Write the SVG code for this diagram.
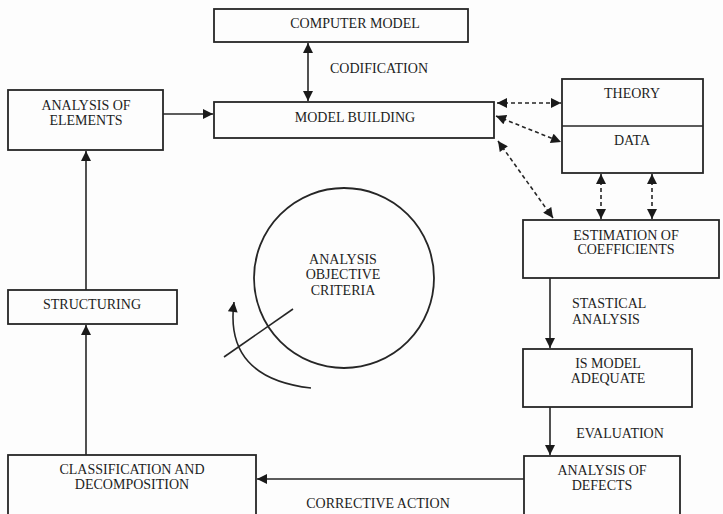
<svg xmlns="http://www.w3.org/2000/svg" width="723" height="514" viewBox="0 0 723 514">
  <style>
    .box { fill: none; stroke: #262626; stroke-width: 1.8; }
    .t { font-family: "Liberation Serif", "Times New Roman", serif; font-size: 14px; fill: #1e1e1e; text-anchor: middle; }
    .tl { font-family: "Liberation Serif", "Times New Roman", serif; font-size: 14px; fill: #1e1e1e; text-anchor: start; }
    .ln { fill: none; stroke: #262626; stroke-width: 1.6; }
    .dash { fill: none; stroke: #262626; stroke-width: 1.6; stroke-dasharray: 4 3; }
  </style>
  <defs>
    <marker id="ah" viewBox="0 0 10 10" refX="10" refY="5" markerWidth="11" markerHeight="10" markerUnits="userSpaceOnUse" orient="auto-start-reverse">
      <path d="M0,0 L10,5 L0,10 z" fill="#1a1a1a"/>
    </marker>
  </defs>
  <rect width="723" height="514" fill="#fdfdfd"/>

  <g id="computer-model">
    <rect class="box" x="214" y="9" width="254" height="33"/>
    <text class="t" x="355" y="28">COMPUTER MODEL</text>
  </g>
  <g id="model-building">
    <rect class="box" x="214" y="102" width="280" height="36"/>
    <text class="t" x="355" y="122">MODEL BUILDING</text>
  </g>
  <g id="analysis-of-elements">
    <rect class="box" x="8" y="90" width="155" height="60"/>
    <text class="t" x="86" y="110">ANALYSIS OF</text>
    <text class="t" x="86" y="125">ELEMENTS</text>
  </g>
  <g id="theory-data">
    <rect class="box" x="562" y="79" width="141" height="94"/>
    <line class="ln" x1="562" y1="126" x2="703" y2="126"/>
    <text class="t" x="632" y="98">THEORY</text>
    <text class="t" x="632" y="145">DATA</text>
  </g>
  <g id="estimation-of-coefficients">
    <rect class="box" x="523" y="220" width="196" height="58"/>
    <text class="t" x="626" y="240">ESTIMATION OF</text>
    <text class="t" x="626" y="254">COEFFICIENTS</text>
  </g>
  <g id="is-model-adequate">
    <rect class="box" x="523" y="349" width="169" height="58"/>
    <text class="t" x="608" y="368">IS MODEL</text>
    <text class="t" x="608" y="383">ADEQUATE</text>
  </g>
  <g id="analysis-of-defects">
    <rect class="box" x="524" y="456" width="156" height="70"/>
    <text class="t" x="602" y="475">ANALYSIS OF</text>
    <text class="t" x="602" y="490">DEFECTS</text>
  </g>
  <g id="classification-and-decomposition">
    <rect class="box" x="8" y="455" width="248" height="70"/>
    <text class="t" x="132" y="474">CLASSIFICATION AND</text>
    <text class="t" x="132" y="489">DECOMPOSITION</text>
  </g>
  <g id="structuring">
    <rect class="box" x="8" y="290" width="169" height="34"/>
    <text class="t" x="92" y="309">STRUCTURING</text>
  </g>
  <g id="analysis-objective-criteria">
    <circle class="box" cx="344" cy="278" r="90"/>
    <text class="t" x="343" y="264">ANALYSIS</text>
    <text class="t" x="343" y="279">OBJECTIVE</text>
    <text class="t" x="343" y="295">CRITERIA</text>
  </g>

  <g id="connectors">
    <line class="ln" x1="308" y1="43" x2="308" y2="101" marker-start="url(#ah)" marker-end="url(#ah)"/>
    <line class="ln" x1="163" y1="114" x2="213" y2="114" marker-end="url(#ah)"/>
    <line class="ln" x1="86" y1="290" x2="86" y2="151" marker-end="url(#ah)"/>
    <line class="ln" x1="86" y1="455" x2="86" y2="325" marker-end="url(#ah)"/>
    <line class="ln" x1="524" y1="479" x2="257" y2="479" marker-end="url(#ah)"/>
    <line class="ln" x1="550" y1="278" x2="550" y2="348" marker-end="url(#ah)"/>
    <line class="ln" x1="550" y1="407" x2="550" y2="455" marker-end="url(#ah)"/>
    <line class="dash" x1="497" y1="103" x2="561" y2="103" marker-start="url(#ah)" marker-end="url(#ah)"/>
    <line class="dash" x1="496" y1="116" x2="561" y2="142" marker-start="url(#ah)" marker-end="url(#ah)"/>
    <line class="dash" x1="498" y1="141" x2="553" y2="218" marker-start="url(#ah)" marker-end="url(#ah)"/>
    <line class="dash" x1="601" y1="174" x2="601" y2="219" marker-start="url(#ah)" marker-end="url(#ah)"/>
    <line class="dash" x1="652" y1="174" x2="652" y2="219" marker-start="url(#ah)" marker-end="url(#ah)"/>
    <path class="ln" d="M311,388 Q224,378 234,302" marker-end="url(#ah)"/>
    <line class="ln" x1="293" y1="309" x2="224" y2="357"/>
    <text class="t" x="379" y="73">CODIFICATION</text>
    <text class="tl" x="572" y="308">STASTICAL</text>
    <text class="tl" x="572" y="324">ANALYSIS</text>
    <text class="t" x="620" y="438">EVALUATION</text>
    <text class="t" x="378" y="508">CORRECTIVE ACTION</text>
  </g>
</svg>
